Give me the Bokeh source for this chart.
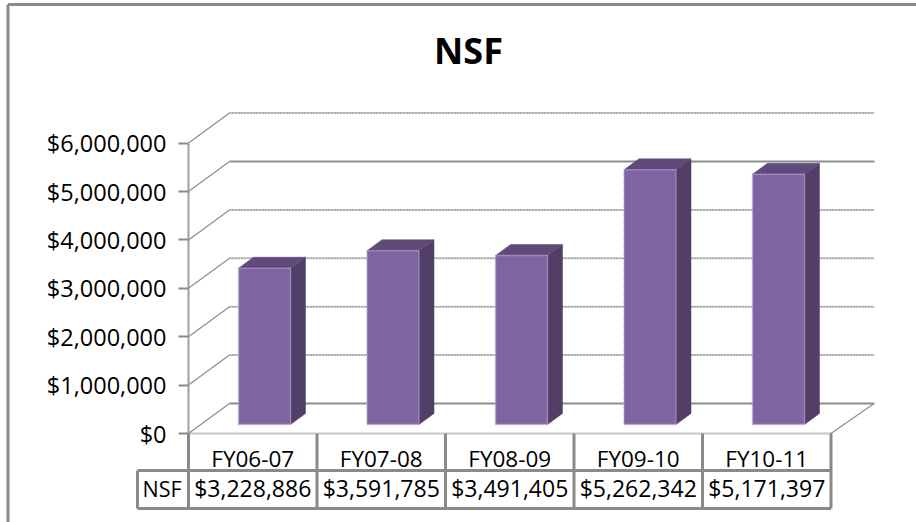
from bokeh.plotting import figure
from bokeh.models import LinearAxis, FixedTicker, NumeralTickFormatter, Range1d
from bokeh.core.properties import value
from bokeh.embed import file_html
from bokeh.resources import INLINE

categories = ["FY06-07", "FY07-08", "FY08-09", "FY09-10", "FY10-11"]
series_name = "NSF"
nsf_values = [3228886, 3591785, 3491405, 5262342, 5171397]
y_ticks = [0, 1000000, 2000000, 3000000, 4000000, 5000000, 6000000]

W, H = 916, 522
PX_PER_UNIT_Y = 48.4e-6
CAT_PX = 128.5
X0, Y0 = 188, 433

def X(px):
    return (px - X0) / CAT_PX

def Y(px):
    return (Y0 - px) / PX_PER_UNIT_Y

GRAY = "#8a8a8a"
FONT = "Open Sans"
DEPTH_X = 41 / CAT_PX
DEPTH_Y = 30 / PX_PER_UNIT_Y
N = len(categories)

p = figure(width=W, height=H, output_backend="svg", toolbar_location=None,
           x_range=Range1d(X(0), X(W)), y_range=Range1d(Y(H), Y(0)),
           x_axis_location=None, y_axis_location=None, min_border=0)
p.styles = {"position": "absolute", "left": "0px", "top": "0px"}
p.grid.visible = False
p.outline_line_color = None
p.background_fill_color = "white"

# walls
for v in y_ticks:
    solid = v in (0, 5000000)
    p.line([0, DEPTH_X], [v, v + DEPTH_Y], line_color="#909090", line_width=1.3)
    if solid:
        p.line([DEPTH_X, X(874)], [v + DEPTH_Y, v + DEPTH_Y], line_color="#8e8e8e", line_width=2)
    else:
        p.line([DEPTH_X, X(874)], [v + DEPTH_Y, v + DEPTH_Y], line_color="#cfcfcf", line_width=2)
        p.line([DEPTH_X, X(874)], [v + DEPTH_Y, v + DEPTH_Y], line_color="#7c7c7c", line_width=1.5,
               line_dash="1 2")
p.line([N, N + (43 / CAT_PX)], [0, DEPTH_Y], line_color="#909090", line_width=1.3)

# bars (front, top, side), derived from the values
BAR_L, BAR_W = 50 / CAT_PX, 52 / CAT_PX
BAR_DX, BAR_DY = 15 / CAT_PX, 11 / PX_PER_UNIT_Y
BASE = 9 / PX_PER_UNIT_Y
xs_f, ys_f, xs_t, ys_t, xs_s, ys_s = [], [], [], [], [], []
for i, v in enumerate(nsf_values):
    l = i + BAR_L
    r = l + BAR_W
    b = BASE
    t = BASE + v
    xs_f.append([l, r, r, l]); ys_f.append([b, b, t, t])
    xs_t.append([l, r, r + BAR_DX, l + BAR_DX]); ys_t.append([t, t, t + BAR_DY, t + BAR_DY])
    xs_s.append([r, r + BAR_DX, r + BAR_DX, r]); ys_s.append([b, b + BAR_DY, t + BAR_DY, t])
p.patches(xs_s, ys_s, fill_color="#523F68", line_color="#523F68", line_width=0.5)
p.patches(xs_t, ys_t, fill_color="#604A7B", line_color="#604A7B", line_width=0.5)
p.patches(xs_f, ys_f, fill_color="#8064A2", line_color="#B7A8CC", line_width=1.5, line_dash="1 1")

# value axis
ya = LinearAxis(fixed_location=0, ticker=FixedTicker(ticks=y_ticks),
                formatter=NumeralTickFormatter(format="$0,0"), bounds=(0, 6000000))
ya.major_tick_in = 0
ya.major_tick_out = 10
ya.minor_tick_out = 0
ya.minor_tick_in = 0
ya.axis_line_color = "#a0a0a0"
ya.axis_line_width = 2
ya.major_tick_line_color = GRAY
ya.major_tick_line_width = 2
ya.major_label_text_font = FONT
ya.major_label_text_font_size = "23.5px"
ya.major_label_text_color = "black"
ya.major_label_standoff = 12
p.add_layout(ya, "left")

# category axis
centers = [i + 0.5 for i in range(N)]
xa = LinearAxis(fixed_location=0, ticker=FixedTicker(ticks=centers),
                major_label_overrides={c: n for c, n in zip(centers, categories)}, bounds=(0, N))
xa.major_tick_in = 0
xa.major_tick_out = 0
xa.minor_tick_out = 0
xa.minor_tick_in = 0
xa.axis_line_color = "#8c8c8c"
xa.axis_line_width = 2
xa.axis_line_dash = "1 1"
xa.major_label_text_font = FONT
xa.major_label_text_font_size = "22.5px"
xa.major_label_text_color = "black"
xa.major_label_standoff = 9
p.add_layout(xa, "below")

# data table
row1 = Y(470)
row2 = Y(508)
sx = [X(137)] + list(range(N + 1))
p.segment([sx[0], sx[0]], [row1, row2], [X(830.5), X(830.5)], [row1, row2], line_color=GRAY, line_width=3)
p.segment(sx[:1], [row1], sx[:1], [row2], line_color=GRAY, line_width=3)
p.segment(list(range(N + 1)), [0] * (N + 1), list(range(N + 1)), [row2] * (N + 1), line_color=GRAY, line_width=3)
labels = [f"${v:,}" for v in nsf_values]
p.text(centers, [Y(487.5)] * N, text=labels, text_font=value(FONT), text_font_size="23px",
       text_align="center", text_baseline="middle", text_color="black")
p.text([X(161.5)], [Y(487.5)], text=[series_name], text_font=value(FONT), text_font_size="21.5px",
       text_align="center", text_baseline="middle", text_color="black")

# title
p.text([X(468)], [Y(50)], text=[series_name], text_font=value(FONT), text_font_size="36px",
       text_font_style="bold", text_align="center", text_baseline="middle", text_color="black")

# chart border
p.line([X(7.5), X(7.5)], [Y(522), Y(4)], line_color=GRAY, line_width=3)
p.line([X(7.5), X(916)], [Y(4), Y(4)], line_color=GRAY, line_width=3)

open("out.html", "w").write(file_html(p, INLINE))
